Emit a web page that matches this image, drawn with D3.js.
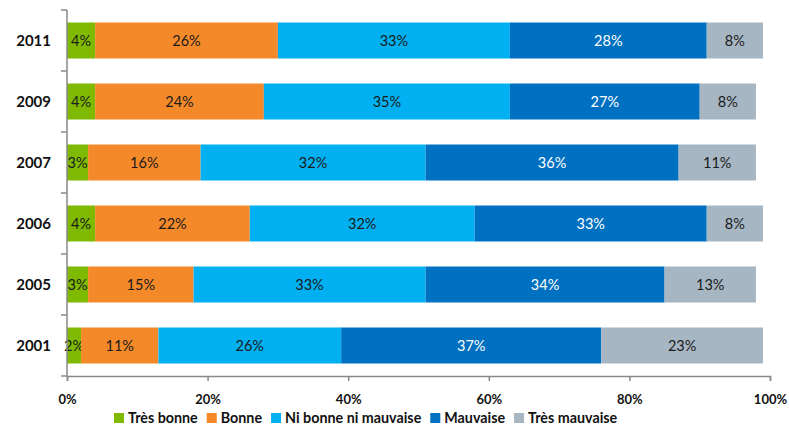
<!DOCTYPE html>
<html><head><meta charset="utf-8">
<script src="https://cdn.jsdelivr.net/npm/d3@7/dist/d3.min.js"></script>
<style>body{margin:0;background:#fff}svg{display:block}</style>
</head><body><svg id="c" width="789" height="429"></svg>
<script>
const years = ["2011","2009","2007","2006","2005","2001"];
const series = ["Très bonne","Bonne","Ni bonne ni mauvaise","Mauvaise","Très mauvaise"];
const tresBonne = [4,4,3,4,3,2];
const bonne = [26,24,16,22,15,11];
const niBonne = [33,35,32,32,33,26];
const mauvaise = [28,27,36,33,34,37];
const tresMauvaise = [8,8,11,8,13,23];
const xTicks = [0,20,40,60,80,100];
const colors = ["#7fba00","#f4892a","#00b0f0","#0070c0","#a7b6c3"];
const labelColors = ["#1a1a1a","#1a1a1a","#1a1a1a","#ffffff","#1a1a1a"];

const rows = years.map((y,i)=>({year:y,values:[tresBonne[i],bonne[i],niBonne[i],mauvaise[i],tresMauvaise[i]]}));
const svg = d3.select("#c");
const font = "Lato, 'Open Sans', sans-serif";
const x = d3.scaleLinear().domain([0,100]).range([67,770]);
const y = d3.scaleBand().domain(years).range([10,376]).paddingInner(0.41).paddingOuter(0.205);
const yb = d3.scaleBand().domain(years).range([10,376]);

// bars
rows.forEach(r=>{
  let acc=0;
  r.values.forEach((v,j)=>{
    const x0=acc, x1=acc+v; acc=x1;
    svg.append("rect").attr("x",x(x0)).attr("y",y(r.year)).attr("width",x(x1)-x(x0)).attr("height",y.bandwidth()).attr("fill",colors[j]);
    svg.append("text").attr("x",(x(x0)+x(x1))/2).attr("y",y(r.year)+y.bandwidth()/2).attr("dy","0.35em")
      .attr("text-anchor","middle").attr("font-family",font).attr("font-size",14.5).attr("fill",labelColors[j]).text(v+"%");
  });
});

// y axis
const gy = svg.append("g").attr("transform","translate(67,0)");
gy.append("line").attr("x1",0).attr("x2",0).attr("y1",10).attr("y2",376).attr("stroke","#888").attr("stroke-width",1.5);
const bounds = years.map(d=>yb(d)).concat([376]);
bounds.forEach(b=>gy.append("line").attr("x1",-6).attr("x2",0).attr("y1",b).attr("y2",b).attr("stroke","#888").attr("stroke-width",1.5));
years.forEach(d=>svg.append("text").attr("x",51).attr("y",yb(d)+yb.bandwidth()/2).attr("dy","0.35em").attr("text-anchor","end")
  .attr("font-family",font).attr("font-weight","bold").attr("font-size",15).attr("fill","#111").text(d));

// x axis
const gx = svg.append("g").attr("transform","translate(0,376)")
  .call(d3.axisBottom(x).tickValues(xTicks).tickSize(5).tickPadding(14).tickFormat(d=>d+"%"));
gx.select(".domain").attr("stroke","#888").attr("stroke-width",1.5);
gx.selectAll(".tick line").attr("stroke","#888").attr("stroke-width",1.5);
gx.selectAll("text").attr("font-family",font).attr("font-weight","bold").attr("font-size",13).attr("fill","#111");

// legend
const lg = svg.append("g").attr("transform","translate(114,418)");
let lx=0;
series.forEach((s,i)=>{
  const g = lg.append("g").attr("transform",`translate(${lx},0)`);
  g.append("rect").attr("x",0).attr("y",-5).attr("width",10).attr("height",10).attr("fill",colors[i]);
  const t = g.append("text").attr("x",14).attr("y",0).attr("dy","0.35em").attr("font-family",font).attr("font-weight","bold")
    .attr("font-size",14.3).attr("fill","#111").text(s);
  lx += 14 + t.node().getComputedTextLength() + 9;
});
</script></body></html>
